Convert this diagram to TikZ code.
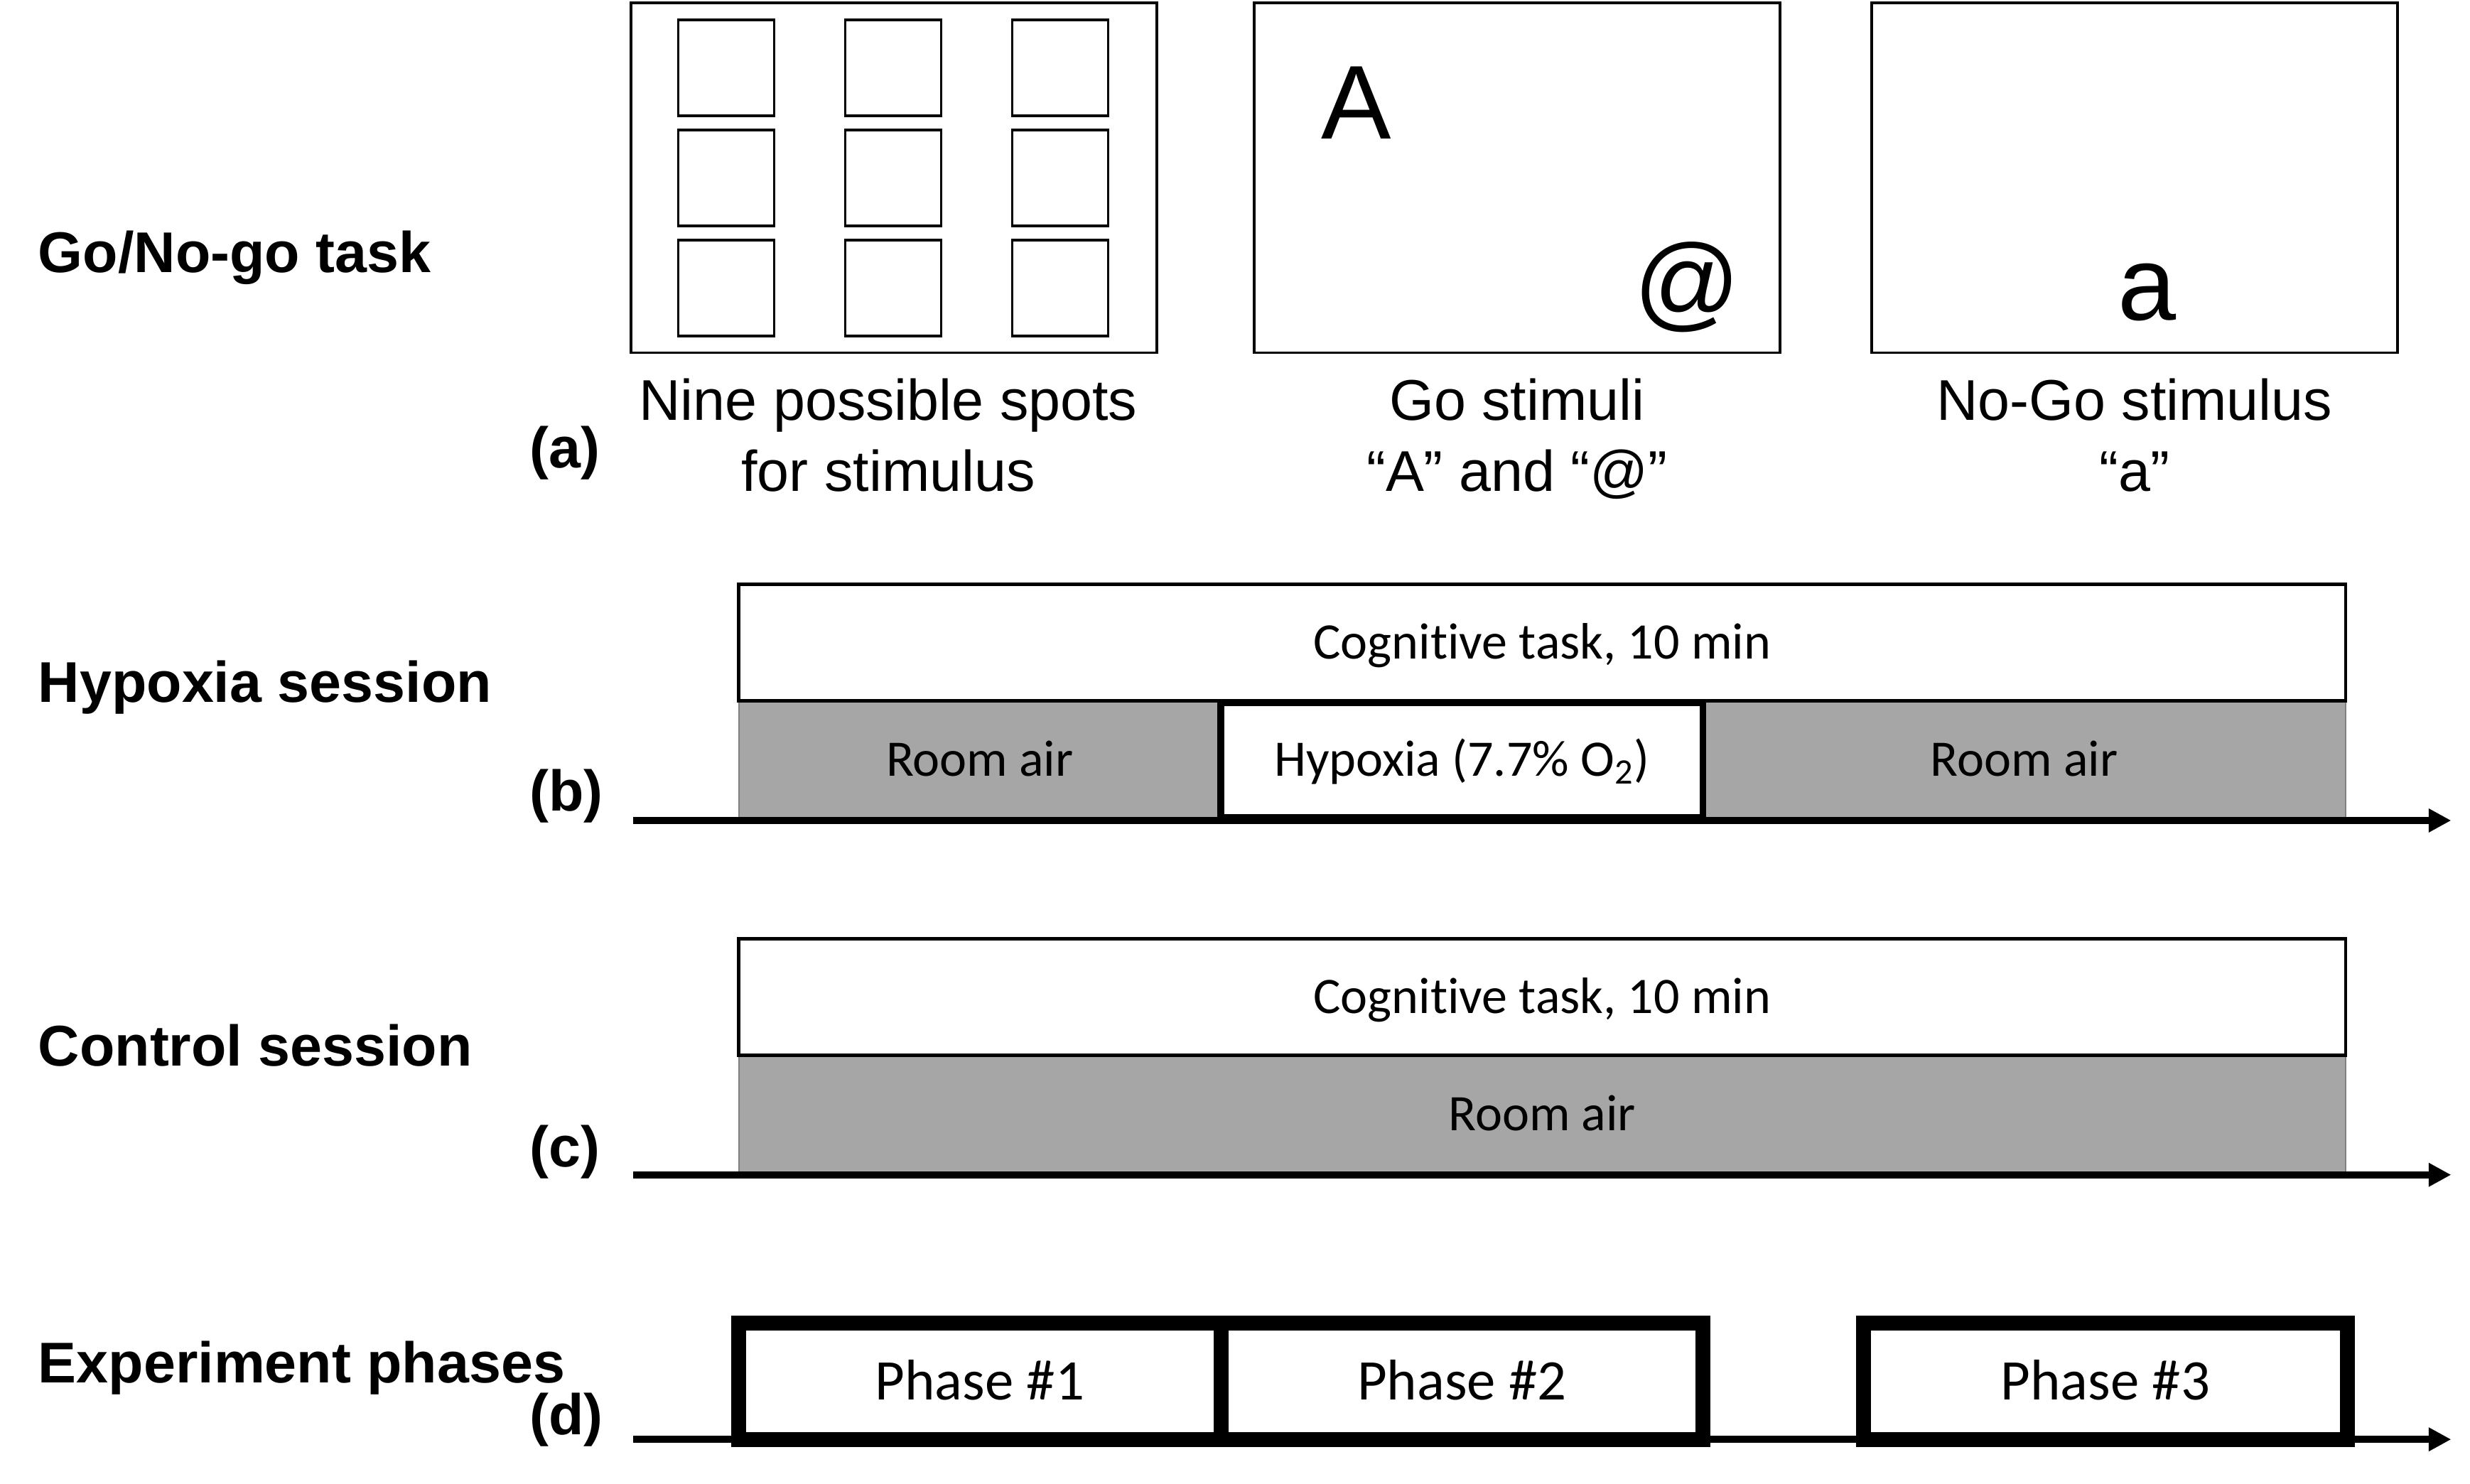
\documentclass[tikz,border=0pt]{standalone}
\usepackage{fontspec}
\setmainfont{Liberation Sans}
\newfontfamily\calibri[Ligatures=NoCommon]{Carlito}
\usetikzlibrary{arrows.meta, positioning}
\definecolor{airgray}{RGB}{166,166,166}

\begin{document}
\begin{tikzpicture}[
        x=0.22168mm, y=-0.22168mm,
        size/.style 2 args={minimum width=#1*0.22168mm, minimum height=#2*0.22168mm},
        title/.style={anchor=base west, inner sep=0, font=\fontsize{23}{28}\selectfont\bfseries},
        screen/.style={draw, line width=1.1pt, inner sep=0, size={334}{222}},
        spot/.style={draw, line width=1.1pt, inner sep=0, minimum size=13.5mm},
        caption/.style={inner sep=0, align=center, font=\fontsize{23}{28.4}\selectfont},
        glyph/.style={anchor=base, inner sep=0, font=\fontsize{42}{42}\selectfont},
        task/.style={draw, line width=1.3pt, fill=white, inner sep=0, text height=13.2pt, text depth=0pt, font=\calibri\fontsize{20.5}{24}\selectfont},
        air/.style={task, draw=gray, line width=0.5pt, fill=airgray},
        hypo/.style={task, line width=2.8pt},
        phasebox/.style={draw, line width=6pt, fill=white, inner sep=0, size={306}{74}, text height=14.8pt, text depth=0pt, font=\calibri\fontsize{23}{28}\selectfont},
        axis/.style={line width=2.8pt, -{Triangle[length=9pt, width=9pt]}}
    ]
        \useasboundingbox (0,0) rectangle (1568,942);

        % (a) Go/No-go task
        \node[title] (title-a) at (24,173) {Go/No-go task};
        \node[title] (tag-a) at (336,297) {(a)};
        \node[screen] (scr1) at (567.5,113) {};
        \node[screen] (scr2) at (963,113) {};
        \node[screen] (scr3) at (1355,113) {};
        \foreach \c [count=\i] in {461,567,673}
            \foreach \r [count=\j] in {43,113,183}
                \node[spot] (spot-\i-\j) at (\c,\r) {};
        \node[glyph] (go-A) at (861,88) {A};
        \node[glyph] (go-at) at (1071,202) {@};
        \node[glyph] (nogo-a) at (1363,203) {a};
        \node[caption, below=3.4mm of scr1, xshift=-0.8mm] (cap1) {Nine possible spots\\for stimulus};
        \node[caption, below=3.4mm of scr2] (cap2) {Go stimuli\\“A” and “@”};
        \node[caption, below=3.4mm of scr3] (cap3) {No-Go stimulus\\“a”};

        % (b) Hypoxia session
        \node[title] (title-b) at (24,446) {Hypoxia session};
        \node[title] (tag-b) at (336,515) {(b)};
        \node[air, size={306}{75}] (air-b1) at (622,482.5) {Room air};
        \node[air, size={408}{75}] (air-b2) at (1285,482.5) {Room air};
        \node[task, size={1020}{74}] (task-b) at (979,408) {Cognitive task, 10 min};
        \node[hypo, size={306}{73}] (hyp-b) at (928,482.5) {Hypoxia (7.7\% O\textsubscript{2})};
        \coordinate (start-b) at (402,521);
        \coordinate (end-b) at (1556,521);
        \draw[axis] (start-b) -- (end-b);

        % (c) Control session
        \node[title] (title-c) at (24,677) {Control session};
        \node[title] (tag-c) at (336,741) {(c)};
        \node[air, size={1020}{75}] (air-c) at (979,707.5) {Room air};
        \node[task, size={1020}{74}] (task-c) at (979,633) {Cognitive task, 10 min};
        \coordinate (start-c) at (402,746);
        \coordinate (end-c) at (1556,746);
        \draw[axis] (start-c) -- (end-c);

        % (d) Experiment phases
        \node[title] (title-d) at (24,878) {Experiment phases};
        \node[title] (tag-d) at (336,911) {(d)};
        \coordinate (start-d) at (402,914);
        \coordinate (end-d) at (1556,914);
        \draw[axis] (start-d) -- (end-d);
        \node[phasebox] (ph1) at (622,877) {Phase \#1};
        \node[phasebox] (ph2) at (928,877) {Phase \#2};
        \node[phasebox, size={307}{74}] (ph3) at (1336.5,877) {Phase \#3};
    \end{tikzpicture}
\end{document}
